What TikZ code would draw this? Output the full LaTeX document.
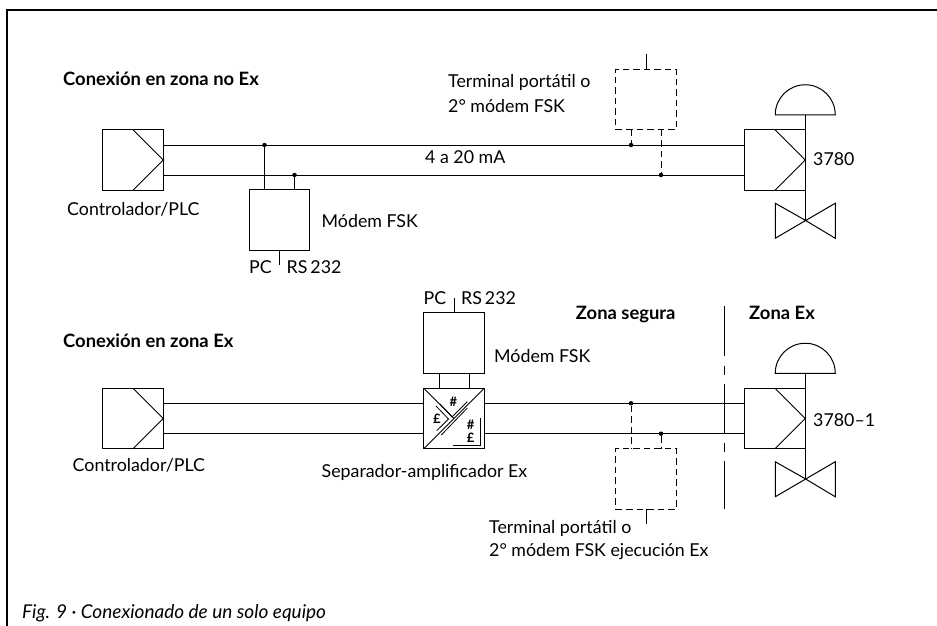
\documentclass[tikz,border=0pt]{standalone}
\usepackage{fontspec}
\setmainfont{Lato}
\tikzset{
  wire/.style={line width=1pt},
  frameline/.style={line width=2pt},
  block/.style={draw,line width=1.1pt,minimum size=60.5pt,inner sep=0pt,outer sep=0pt},
  termbox/.style={block,dash pattern=on 6.5pt off 4pt},
  termwire/.style={wire,dash pattern=on 6.5pt off 4pt},
  zoneline/.style={wire,dash pattern=on 50pt off 9.5pt on 9pt off 9pt},
  symline/.style={line width=.8pt},
  junction/.style={circle,fill,inner sep=0pt,minimum size=4.5pt},
  txt/.style={anchor=base west,inner sep=0pt,font=\fontsize{17.8}{24}\selectfont},
  txtb/.style={txt,font=\fontsize{18.4}{24}\selectfont\bfseries},
  txts/.style={txt,font=\fontsize{13}{13}\selectfont\bfseries}
}
\begin{document}
\begin{tikzpicture}[x=1pt,y=-1pt]
  \useasboundingbox (0,0) rectangle (937,626);
  \coordinate (frameA) at (7,626);
  \coordinate (frameB) at (7,10);
  \coordinate (frameC) at (937,10);
  \draw[frameline] (frameA) -- (frameB) -- (frameC);

  % upper circuit
  \node[block] (ctrlA) at (133,160) {};
  \node[block] (modemA) at (279.5,220) {};
  \node[termbox] (termA) at (646,99.5) {};
  \node[block] (valveA) at (775,160) {};
  \node[junction] (jA1) at (264.5,145) {};
  \node[junction] (jA2) at (294.5,175) {};
  \node[junction] (jA3) at (631,145) {};
  \node[junction] (jA4) at (661,175) {};
  \coordinate (pcA) at (279.5,265);
  \coordinate (stubA) at (646,54);
  \draw[wire] (ctrlA.east |- jA1) -- (valveA.west |- jA1);
  \draw[wire] (ctrlA.east |- jA2) -- (valveA.west |- jA2);
  \draw[wire] (jA1) -- (jA1 |- modemA.north);
  \draw[wire] (jA2) -- (jA2 |- modemA.north);
  \draw[wire] (modemA.south) -- (pcA);
  \draw[wire] (termA.north) -- (stubA);
  \draw[termwire] (jA3 |- termA.south) -- (jA3);
  \draw[termwire] (jA4 |- termA.south) -- (jA4);

  % lower circuit
  \node[block] (ctrlB) at (133,418.5) {};
  \node[block] (ampB) at (454,418.5) {};
  \node[block] (modemB) at (454,343) {};
  \node[termbox] (termB) at (646,479) {};
  \node[block] (valveB) at (775,418.5) {};
  \node[junction] (jB1) at (631,403.3) {};
  \node[junction] (jB2) at (661,433.7) {};
  \coordinate (pcB) at (454,298);
  \coordinate (stubB) at (646,524);
  \coordinate (zoneA) at (724.7,306);
  \coordinate (zoneB) at (724.7,509);
  \draw[wire] (ctrlB.east |- jB1) -- (ampB.west |- jB1);
  \draw[wire] (ctrlB.east |- jB2) -- (ampB.west |- jB2);
  \draw[wire] (ampB.east |- jB1) -- (valveB.west |- jB1);
  \draw[wire] (ampB.east |- jB2) -- (valveB.west |- jB2);
  \draw[wire] ([xshift=-15pt]modemB.south) -- ([xshift=-15pt]ampB.north);
  \draw[wire] ([xshift=15pt]modemB.south) -- ([xshift=15pt]ampB.north);
  \draw[wire] (modemB.north) -- (pcB);
  \draw[wire] (termB.south) -- (stubB);
  \draw[termwire] (jB1) -- (jB1 |- termB.north);
  \draw[termwire] (jB2) -- (jB2 |- termB.north);
  \draw[zoneline] (zoneA) -- (zoneB);

  % separator symbol
  \draw[wire] (ampB.south west) -- (ampB.north east);
  \draw[wire] (ampB.north west) -- (ampB.center);
  \draw[symline] (436,406) -- (448.5,419) -- (436.7,430.7);
  \draw[symline] (440,404) -- (452,417) -- (467.3,401.7);
  \draw[symline] (441.3,435) -- (467.3,408);
  \draw[symline] (453.3,445) -- (480.7,445) -- (480.7,418.3);
  \node[txts] (neA) at (449.3,406.7) {\#};
  \node[txts] (leA) at (433,423) {£};
  \node[txts] (neB) at (466.7,429) {\#};
  \node[txts] (leB) at (466.7,442.7) {£};

  % actuators
  \foreach \v in {valveA,valveB} {
    \draw[wire] ([shift={(0,-15)}]\v.north east) -- ([shift={(0,30)}]\v.south east);
    \draw[wire] ([shift={(-30,-15)}]\v.north east) arc[start angle=180,end angle=0,radius=30pt] -- cycle;
    \draw[wire] ([shift={(0,30)}]\v.south east) -- ([shift={(-30,13)}]\v.south east)
      -- ([shift={(-30,48)}]\v.south east) -- ([shift={(30,13)}]\v.south east)
      -- ([shift={(30,48)}]\v.south east) -- cycle;
  }
  \foreach \b in {ctrlA,valveA,ctrlB,valveB}
    \draw[wire] (\b.north) -- (\b.east) -- (\b.south);

  % labels
  \node[txtb] (titleA) at (63,85) {Conexión en zona no Ex};
  \node[txtb] (titleB) at (63,347) {Conexión en zona Ex};
  \node[txtb] (zoneSafe) at (575.7,319) {Zona segura};
  \node[txtb] (zoneEx) at (749,319) {Zona Ex};
  \node[txt] (ctrlLabelA) at (67,215) {Controlador/PLC};
  \node[txt] (ctrlLabelB) at (72.5,471.7) {Controlador/PLC};
  \node[txt] (modemLabelA) at (321.5,227) {Módem FSK};
  \node[txt] (modemLabelB) at (494,362.7) {Módem FSK};
  \node[txt] (pcLabelA) at (249,273) {PC};
  \node[txt] (rsLabelA) at (286.5,273) {RS\,232};
  \node[txt] (pcLabelB) at (423.5,304) {PC};
  \node[txt] (rsLabelB) at (461,304) {RS\,232};
  \node[txt] (currentLabel) at (425,163) {4 a 20 mA};
  \node[txt] (typeA) at (813,165) {3780};
  \node[txt] (typeB) at (813,426.7) {3780–1};
  \node[txt] (termLabelA) at (448,88) {Terminal portátil o};
  \node[txt] (termLabelAb) at (448,112) {2° módem FSK};
  \node[txt] (termLabelB) at (489,533) {Terminal portátil o};
  \node[txt] (termLabelBb) at (489,556.7) {2° módem FSK ejecución Ex};
  \node[txt] (ampLabel) at (321.5,477) {Separador-amplificador Ex};
  \node[txt,font=\fontsize{19}{24}\selectfont\itshape] (caption) at (22,618) {Fig. 9 · Conexionado de un solo equipo};
\end{tikzpicture}
\end{document}
